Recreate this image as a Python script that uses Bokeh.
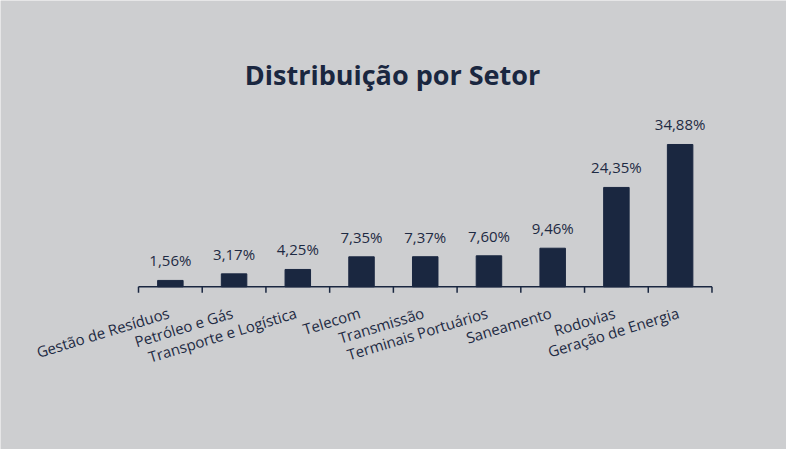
from bokeh.plotting import figure
from bokeh.models import ColumnDataSource, LabelSet, Label, Range1d
from bokeh.core.properties import value
from bokeh.embed import file_html
from bokeh.resources import INLINE
import math

categories = ["Gestão de Resíduos", "Petróleo e Gás", "Transporte e Logística", "Telecom",
              "Transmissão", "Terminais Portuários", "Saneamento", "Rodovias", "Geração de Energia"]
values = [1.56, 3.17, 4.25, 7.35, 7.37, 7.60, 9.46, 24.35, 34.88]
value_labels = ["1,56%", "3,17%", "4,25%", "7,35%", "7,37%", "7,60%", "9,46%", "24,35%", "34,88%"]
title_text = "Distribuição por Setor"

BG = "#cdced0"
NAVY = "#1a2740"
TXT = "#1e2a43"
FONT = "Open Sans"

n = len(categories)
xpos = [i + 0.5 for i in range(n)]
src = ColumnDataSource(dict(x=xpos, top=values, cat=categories, lab=value_labels,
                            zero=[0] * n))

# page-pixel calibration: category unit = 63.72 px, 1% = 4.08 px
UX, UY = 63.72, 4.08
W, H = 786, 449
left_pg, top_pg = 8, 8
x0 = (left_pg - 146) / UX
x1 = (left_pg + W - 146) / UX
y1 = (294.3 - top_pg) / UY
y0 = (294.3 - (top_pg + H)) / UY

p = figure(width=W, height=H, output_backend="svg", toolbar_location=None,
           x_range=Range1d(x0, x1), y_range=Range1d(y0, y1),
           min_border=0)
p.background_fill_color = BG
p.border_fill_color = BG
p.outline_line_color = None
p.grid.visible = False
p.xaxis.visible = False
p.yaxis.visible = False

p.vbar(x="x", top="top", width=0.4, source=src, color=NAVY, line_color=NAVY)

# category axis line with boundary ticks
ticks = list(range(n + 1))
p.segment(x0=[0], y0=[0], x1=[n], y1=[0], line_color=NAVY, line_width=1.5)
p.segment(x0=ticks, y0=[0] * len(ticks), x1=ticks, y1=[-6 / UY] * len(ticks),
          line_color=NAVY, line_width=1.5)

p.add_layout(LabelSet(x="x", y="top", text="lab", source=src, text_align="center",
                      text_baseline="alphabetic", y_offset=14, text_font=value(FONT),
                      text_font_size="15px", text_color=TXT))

p.add_layout(LabelSet(x="x", y="zero", text="cat", source=src, text_align="right",
                      text_baseline="alphabetic", y_offset=-31, angle=math.radians(17),
                      text_font=value(FONT), text_font_size="15px", text_color=TXT))

p.add_layout(Label(x=(400 - 146) / UX, y=0, y_offset=212, text=title_text,
                   text_align="center", text_baseline="alphabetic", text_font=FONT,
                   text_font_style="bold", text_font_size="27px", text_color=NAVY))

open("out.html", "w").write(file_html(p, INLINE))
